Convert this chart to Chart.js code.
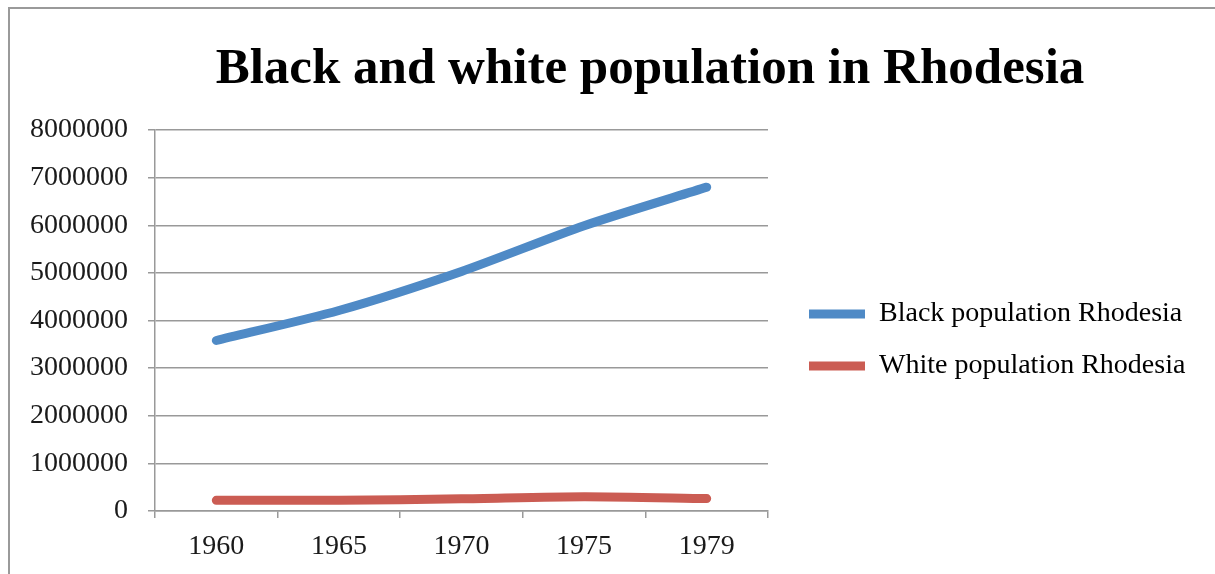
<!DOCTYPE html>
<html>
<head>
<meta charset="utf-8">
<title>Black and white population in Rhodesia</title>
<script src="https://cdn.jsdelivr.net/npm/chart.js@4"></script>
<style>
  html, body { margin: 0; padding: 0; background: #fff; overflow: hidden; }
  #frame {
    position: absolute;
    left: 8px;
    top: 7px;
    border: 2px solid #9a9a9a;
    width: 1280px;
    height: 662px;
  }
</style>
</head>
<body>
<div id="frame">
  <canvas id="rhodesia" width="1280" height="662"></canvas>
</div>
<script>
// data
const years = ['1960', '1965', '1970', '1975', '1979'];
const blackPopulation = [3580000, 4210000, 5030000, 5990000, 6800000];
const whitePopulation = [224000, 226000, 255000, 300000, 262000];
const seriesNames = ['Black population Rhodesia', 'White population Rhodesia'];
const yTicks = [0, 1000000, 2000000, 3000000, 4000000, 5000000, 6000000, 7000000, 8000000];

const serif = '"Liberation Serif", "Times New Roman", serif';
const gridGrey = '#999999';
const textColor = '#1a1a1a';

// the legend box gets a fixed width so the plot area ends where it does in the picture
const LEGEND_WIDTH = 505;
const fixedLegendWidth = {
  id: 'fixedLegendWidth',
  beforeLayout(chart) {
    const lg = chart.legend;
    if (lg && !lg._fixedWidth) {
      const fit = lg.fit;
      lg.fit = function () {
        fit.call(this);
        this.width = LEGEND_WIDTH;
      };
      lg._fixedWidth = true;
    }
  }
};

new Chart(document.getElementById('rhodesia'), {
  type: 'line',
  data: {
    labels: years,
    datasets: [
      {
        label: seriesNames[0],
        data: blackPopulation,
        borderColor: '#4f8ac6',
        backgroundColor: '#4f8ac6',
        borderWidth: 9,
        borderCapStyle: 'round',
        borderJoinStyle: 'round',
        pointRadius: 0,
        tension: 0.25
      },
      {
        label: seriesNames[1],
        data: whitePopulation,
        borderColor: '#cb5c53',
        backgroundColor: '#cb5c53',
        borderWidth: 9,
        borderCapStyle: 'round',
        borderJoinStyle: 'round',
        pointRadius: 0,
        tension: 0.25
      }
    ]
  },
  options: {
    responsive: false,
    animation: false,
    layout: { padding: 0 },
    plugins: {
      title: {
        display: true,
        text: 'Black and white population in Rhodesia',
        color: '#000',
        font: { family: serif, size: 51, weight: 'bold' },
        padding: { top: 30.2, bottom: 29.6 }
      },
      legend: {
        position: 'right',
        align: 'center',
        labels: {
          color: textColor,
          font: { family: serif, size: 28 },
          boxWidth: 56,
          boxHeight: 9,
          padding: 24,
          useBorderRadius: true,
          borderRadius: 4.5,
          generateLabels: chart => chart.data.datasets.map((ds, i) => ({
            text: ds.label,
            fillStyle: ds.borderColor,
            strokeStyle: ds.borderColor,
            lineWidth: 0,
            hidden: false,
            datasetIndex: i
          }))
        }
      },
      tooltip: { enabled: false }
    },
    scales: {
      x: {
        type: 'category',
        offset: true,
        grid: {
          offset: true,
          drawOnChartArea: false,
          drawTicks: true,
          tickLength: 7,
          color: gridGrey,
          lineWidth: 1.5
        },
        border: { color: gridGrey, width: 1.5 },
        ticks: {
          color: textColor,
          font: { family: serif, size: 28 },
          padding: 12,
          maxRotation: 0
        },
        afterFit: s => { s.height = 160; }
      },
      y: {
        type: 'linear',
        min: 0,
        max: 8000000,
        afterBuildTicks: s => { s.ticks = yTicks.map(v => ({ value: v })); },
        grid: {
          color: gridGrey,
          lineWidth: 1.5,
          drawTicks: true,
          tickLength: 7
        },
        border: { color: gridGrey, width: 1.5 },
        ticks: {
          color: textColor,
          font: { family: serif, size: 28 },
          padding: 20,
          callback: v => String(v)
        },
        afterFit: s => { s.width = 145; }
      },
      // empty spacer between the plot and the legend
      spacer: {
        type: 'linear',
        position: 'right',
        display: true,
        grid: { display: false },
        border: { display: false },
        ticks: { display: false },
        afterFit: s => { s.width = 17; }
      }
    }
  },
  plugins: [fixedLegendWidth]
});
</script>
</body>
</html>
